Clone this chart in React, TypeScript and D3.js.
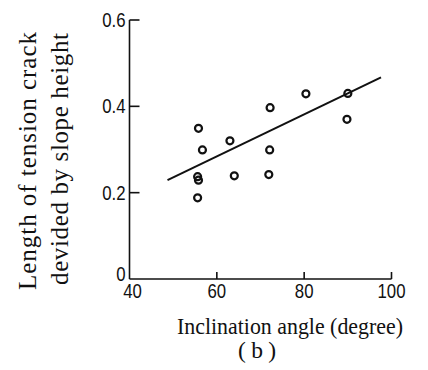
import React from "react";
import * as d3 from "d3";

const angles = [55.8, 56.7, 55.6, 55.8, 55.6, 63.0, 64.0, 72.2, 72.1, 71.9, 80.4, 90.0, 89.8];
const ratios = [0.349, 0.299, 0.237, 0.229, 0.188, 0.32, 0.239, 0.397, 0.299, 0.242, 0.429, 0.43, 0.37];
const fitAngles = [48.7, 97.6];
const fitRatios = [0.229, 0.467];
const xTicks = [40, 60, 80, 100];
const yTicks = [0, 0.2, 0.4, 0.6];
const xTitle = "Inclination angle (degree)";
const yTitle1 = "Length of tension crack";
const yTitle2 = "devided by slope height";
const caption = "(b)";

const W = 428;
const H = 370;

export default function App() {
  const x = d3.scaleLinear().domain([40, 100]).range([129.5, 391.5]);
  const y = d3.scaleLinear().domain([0, 0.6]).range([279, 20]);
  const line = d3
    .line<number>()
    .x((_, i) => x(fitAngles[i]))
    .y((d) => y(d));
  const tickFont = "'Liberation Sans', 'DejaVu Sans', sans-serif";
  const serif = "'Liberation Serif', 'DejaVu Serif', serif";
  const fmt = (v: number) => (v === 0 ? "0" : d3.format(".1f")(v));
  return (
    <svg
      width={W}
      height={H}
      style={{ position: "absolute", left: 0, top: 0, background: "#fff" }}
    >
      {/* axes */}
      <g stroke="#111" strokeWidth={1.6} fill="none">
        <line x1={x(40)} x2={x(40)} y1={y(0.6)} y2={y(0)} />
        <line x1={x(40)} x2={x(100)} y1={y(0)} y2={y(0)} />
        {yTicks
          .filter((t) => t > 0)
          .map((t) => (
            <line key={"yt" + t} x1={x(40)} x2={x(40) + 10} y1={y(t)} y2={y(t)} />
          ))}
        {xTicks
          .filter((t) => t > 40)
          .map((t) => (
            <line key={"xt" + t} x1={x(t)} x2={x(t)} y1={y(0)} y2={y(0) - 7} />
          ))}
      </g>
      {/* tick labels */}
      <g fontFamily={tickFont} fontSize={21} fill="#111">
        {yTicks.map((t) => (
          <text
            key={"yl" + t}
            transform={`translate(${x(40) - 4},${y(t) + (t === 0 ? 2 : 7)}) scale(0.8,1)`}
            textAnchor="end"
          >
            {fmt(t)}
          </text>
        ))}
        {xTicks.map((t) => (
          <text
            key={"xl" + t}
            transform={`translate(${x(t) + (t === 40 ? 3 : 0)},298) scale(0.8,1)`}
            textAnchor="middle"
          >
            {t}
          </text>
        ))}
      </g>
      {/* fit line */}
      <path d={line(fitRatios) || ""} stroke="#111" strokeWidth={2} fill="none" />
      {/* points */}
      <g stroke="#111" strokeWidth={2.2} fill="none">
        {angles.map((a, i) => (
          <circle key={"p" + i} cx={x(a)} cy={y(ratios[i])} r={3.5} />
        ))}
      </g>
      {/* titles */}
      <g fontFamily={serif} fill="#111">
        <text
          x={290}
          y={334}
          textAnchor="middle"
          fontSize={23.5}
          textLength={226}
          lengthAdjust="spacingAndGlyphs"
        >
          {xTitle}
        </text>
        <text
          x={257}
          y={358}
          textAnchor="middle"
          fontSize={23.5}
          textLength={38}
          lengthAdjust="spacing"
        >
          {caption}
        </text>
        <text
          transform="translate(36,161) rotate(-90)"
          textAnchor="middle"
          fontSize={25}
          textLength={258}
          lengthAdjust="spacing"
        >
          {yTitle1}
        </text>
        <text
          transform="translate(68,159) rotate(-90)"
          textAnchor="middle"
          fontSize={25}
          textLength={252}
          lengthAdjust="spacing"
        >
          {yTitle2}
        </text>
      </g>
    </svg>
  );
}
